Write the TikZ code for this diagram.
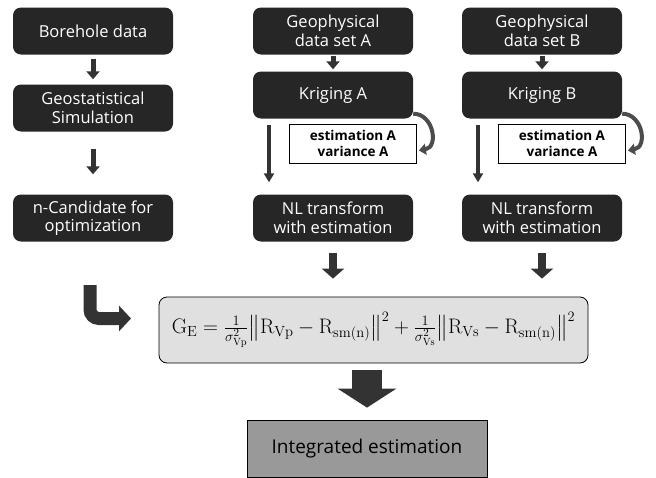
\documentclass[tikz,border=0pt]{standalone}
\usepackage{fontspec}
\usepackage{amsmath}
\newfontfamily\boxfont{Open Sans}
\usetikzlibrary{arrows.meta}

\begin{document}
\begin{tikzpicture}[x=1pt,y=-1pt]
    \tikzstyle{block}=[rectangle, rounded corners=8pt, fill=black!85, text=white, minimum width=160pt, minimum height=47pt, inner sep=1pt, align=center, font=\boxfont\fontsize{16.5}{18.5}\selectfont]
    \tikzstyle{result}=[rectangle, draw=black, thick, fill=white, minimum width=127pt, minimum height=39pt, inner sep=1pt, align=center, font=\boxfont\bfseries\fontsize{13.5}{16}\selectfont]
    \tikzstyle{formula}=[rectangle, rounded corners=8pt, draw=black, thick, fill=black!12, minimum width=429pt, minimum height=66pt, inner sep=1pt, font=\fontsize{21}{24}\selectfont]
    \tikzstyle{final}=[rectangle, draw=black, thick, fill=black!40, minimum width=240pt, minimum height=57pt, font=\boxfont\fontsize{19}{22}\selectfont]
    \tikzstyle{small arrow}=[draw=black!80, line width=5pt, -{Triangle[length=8pt,width=13pt]}]
    \tikzstyle{thin arrow}=[draw=black!80, line width=3.5pt, -{Triangle[length=9pt,width=10pt]}]
    \tikzstyle{mid arrow}=[draw=black!80, line width=8pt, -{Triangle[length=10pt,width=22pt]}]
    \tikzstyle{hook arrow}=[draw=black!70, line width=4pt, -{Triangle[length=7pt,width=11pt]}]

    \useasboundingbox (0,0) rectangle (656,477);

    % Draw the borehole column
    \node[block] (BH) at (93,31) {Borehole data};
    \node[block] (GS) at (93,108) {Geostatistical\\Simulation};
    \node[block] (NC) at (93,218) {n-Candidate for\\optimization};
    \draw[small arrow, shorten <=4pt, shorten >=5pt] (BH) -- (GS);
    \draw[small arrow, shorten <=17pt, shorten >=20pt] (GS) -- (NC);

    % Draw the two geophysical columns
    \foreach \name / \x in {A/333,B/542} {
        \node[block] (GD-\name) at (\x,31) {Geophysical\\data set \name};
        \node[block] (K-\name) at (\x,95) {Kriging \name};
        \node[result] (E-\name) at (\x+20,143.5) {estimation A\\variance A};
        \node[block] (NL-\name) at (\x,218) {NL transform\\with estimation};
        \draw[small arrow, shorten <=1pt, shorten >=2pt] (GD-\name) -- (K-\name);
        \draw[thin arrow, shorten <=6pt, shorten >=12pt] ([xshift=-64pt]K-\name.south) -- ([xshift=-64pt]NL-\name.north);
        \draw[hook arrow] ([yshift=5pt]K-\name.south east) to[out=0,in=10,looseness=1.4] ([yshift=-7pt,xshift=2pt]E-\name.east);
    }

    % Draw the objective function
    \node[formula] (OF) at (373.5,330) {$\mathrm{G_E}=\tfrac{1}{\sigma^2_{\mathrm{Vp}}}\bigl\|\mathrm{R_{Vp}}-\mathrm{R_{sm(n)}}\bigr\|^2+\tfrac{1}{\sigma^2_{\mathrm{Vs}}}\bigl\|\mathrm{R_{Vs}}-\mathrm{R_{sm(n)}}\bigr\|^2$};
    \foreach \name in {A,B}
        \draw[mid arrow, shorten <=11pt, shorten >=18pt] (NL-\name) -- (NL-\name |- OF.north);

    % Candidates go into the objective function
    \coordinate (bend-start) at (90,285);
    \coordinate (bend-end) at (131,318.5);
    \draw[draw=black!80, line width=13pt, rounded corners=9pt, -{Triangle[length=12pt,width=25pt]}] (bend-start) |- (bend-end);

    % Final result
    \node[final] (IE) at (367,448.5) {Integrated estimation};
    \draw[draw=black!80, line width=30pt, -{Triangle[length=19pt,width=58pt]}, shorten <=7pt, shorten >=12pt] (OF.south -| IE) -- (IE);
\end{tikzpicture}
\end{document}
